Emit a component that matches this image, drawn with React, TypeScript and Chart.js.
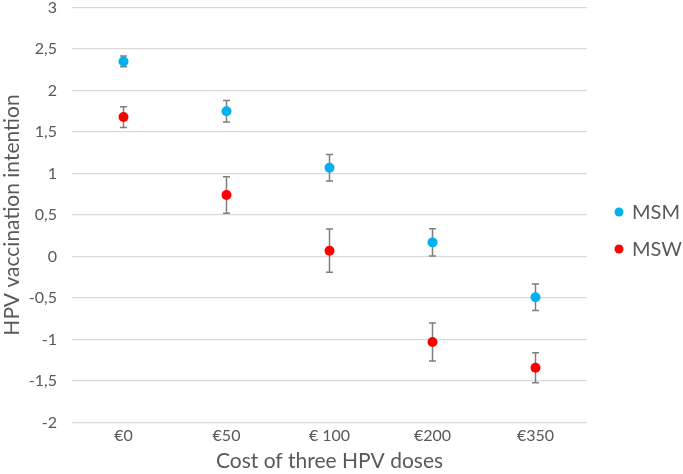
import React, { useEffect, useRef } from 'react';
import { Chart, registerables } from 'chart.js';
Chart.register(...registerables);

const categories = ['€0', '€50', '€ 100', '€200', '€350'];
const msmValues = [2.35, 1.75, 1.07, 0.17, -0.49];
const msmErrors = [0.065, 0.13, 0.16, 0.165, 0.16];
const mswValues = [1.68, 0.74, 0.07, -1.03, -1.34];
const mswErrors = [0.125, 0.22, 0.26, 0.23, 0.18];
const seriesNames = ['MSM', 'MSW'];
const seriesColors = ['#00B0F0', '#FF0000'];
const yMin = -2;
const yMax = 3;
const yStep = 0.5;

const FONT = 'Lato, "Open Sans", sans-serif';
const TEXT = '#595959';

const errorBarPlugin = {
  id: 'errorBars',
  beforeDatasetsDraw(chart: any) {
    const ctx = chart.ctx;
    const yScale = chart.scales.y;
    const errs = [msmErrors, mswErrors];
    chart.data.datasets.forEach((ds: any, di: number) => {
      const meta = chart.getDatasetMeta(di);
      meta.data.forEach((pt: any, i: number) => {
        const v = ds.data[i];
        const e = errs[di][i];
        const top = yScale.getPixelForValue(v + e);
        const bot = yScale.getPixelForValue(v - e);
        ctx.save();
        ctx.strokeStyle = '#7F7F7F';
        ctx.lineWidth = 1.5;
        ctx.beginPath();
        ctx.moveTo(pt.x, top);
        ctx.lineTo(pt.x, bot);
        ctx.moveTo(pt.x - 3.5, top);
        ctx.lineTo(pt.x + 3.5, top);
        ctx.moveTo(pt.x - 3.5, bot);
        ctx.lineTo(pt.x + 3.5, bot);
        ctx.stroke();
        ctx.restore();
      });
    });
  },
};

const legendPlugin = {
  id: 'customLegend',
  afterDraw(chart: any) {
    const ctx = chart.ctx;
    const x0 = chart.chartArea.right + 32;
    const ys = [212, 249];
    ctx.save();
    chart.data.datasets.forEach((ds: any, i: number) => {
      ctx.fillStyle = ds.backgroundColor;
      ctx.beginPath();
      ctx.arc(x0, ys[i], 4.5, 0, Math.PI * 2);
      ctx.fill();
      ctx.fillStyle = TEXT;
      ctx.font = `20px ${FONT}`;
      ctx.textBaseline = 'middle';
      ctx.textAlign = 'left';
      ctx.fillText(ds.label, x0 + 13, ys[i] + 1);
    });
    ctx.restore();
  },
};

export default function App() {
  const ref = useRef<HTMLCanvasElement>(null);
  useEffect(() => {
    document.body.style.margin = '0';
    const chart = new Chart(ref.current!, {
      type: 'line',
      data: {
        labels: categories,
        datasets: [
          {
            label: seriesNames[0],
            data: msmValues,
            showLine: false,
            backgroundColor: seriesColors[0],
            borderColor: seriesColors[0],
            pointRadius: 5,
            pointBorderWidth: 0,
          },
          {
            label: seriesNames[1],
            data: mswValues,
            showLine: false,
            backgroundColor: seriesColors[1],
            borderColor: seriesColors[1],
            pointRadius: 5,
            pointBorderWidth: 0,
          },
        ],
      },
      options: {
        animation: false,
        responsive: false,
        layout: { padding: { top: 7.5, right: 96, left: 0, bottom: 0 } },
        plugins: { legend: { display: false }, tooltip: { enabled: false } },
        scales: {
          x: {
            offset: true,
            grid: { display: false, drawTicks: false },
            border: { display: false },
            ticks: { color: TEXT, font: { family: FONT, size: 16 }, padding: 4 },
            title: {
              display: true,
              text: 'Cost of three HPV doses',
              color: TEXT,
              font: { family: FONT, size: 21 },
              padding: { top: 9, bottom: 0 },
            },
            afterFit(scale: any) {
              scale.height = 51.5;
              scale.paddingLeft = 0;
              scale.paddingRight = 0;
            },
          },
          y: {
            min: yMin,
            max: yMax,
            grid: { color: '#D9D9D9', lineWidth: 1.3, drawTicks: false },
            border: { display: false },
            ticks: {
              stepSize: yStep,
              color: TEXT,
              font: { family: FONT, size: 16 },
              padding: 15,
              callback: (v: any) => String(v).replace('.', ','),
            },
            title: {
              display: true,
              text: 'HPV vaccination intention',
              color: TEXT,
              font: { family: FONT, size: 21 },
              padding: { top: 0, bottom: 0 },
            },
            afterFit(scale: any) {
              scale.width = 72;
              scale.paddingTop = 0;
              scale.paddingBottom = 0;
            },
          },
        },
      },
      plugins: [errorBarPlugin, legendPlugin],
    });
    return () => chart.destroy();
  }, []);
  return (
    <div style={{ width: 683, height: 474 }}>
      <canvas ref={ref} width={683} height={474} />
    </div>
  );
}
